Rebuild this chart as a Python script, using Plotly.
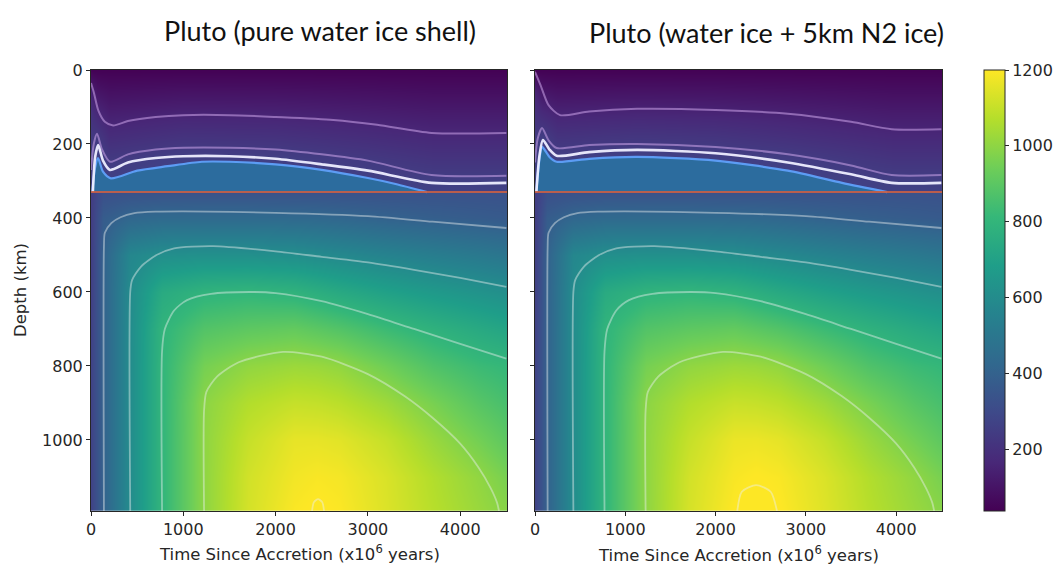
import plotly.graph_objects as go

W, H = 1058, 566
OFF = 0  # body margin is removed by a post script, so positions are window pixels

# ---------------- data ----------------
# Rocky interior temperature (K): rows = depth (km), cols = time (Myr)
core_time = [0, 130, 420, 770, 1225, 1700, 2200, 2450, 2700, 3200, 3700, 4200, 4500]
core_depth = [331, 335, 400, 500, 600, 700, 800, 900, 1000, 1100, 1190]
core_temp_pure = [
    [250, 320, 330, 335, 335, 335, 335, 335, 335, 335, 335, 335, 335],
    [250, 325, 336, 342, 342, 342, 342, 342, 340, 338, 336, 334, 333],
    [250, 375, 420, 435, 437, 437, 432, 428, 420, 402, 387, 375, 367],
    [255, 400, 575, 612, 620, 617, 609, 596, 583, 556, 530, 508, 492],
    [260, 400, 598, 745, 790, 800, 785, 762, 738, 697, 662, 632, 614],
    [265, 400, 600, 795, 880, 905, 918, 900, 880, 828, 781, 740, 717],
    [270, 400, 600, 800, 955, 1005, 1025, 1020, 1005, 943, 873, 827, 810],
    [270, 400, 600, 800, 995, 1065, 1100, 1095, 1080, 1030, 960, 889, 856],
    [270, 400, 600, 800, 1000, 1100, 1160, 1160, 1150, 1100, 1020, 950, 905],
    [270, 400, 600, 800, 1000, 1120, 1180, 1192, 1185, 1135, 1065, 1005, 960],
    [270, 400, 600, 800, 1000, 1125, 1195, 1208, 1197, 1140, 1075, 1020, 990],
]
core_temp_n2 = [
    [250, 320, 330, 335, 335, 335, 335, 335, 335, 335, 335, 335, 335],
    [250, 325, 336, 342, 342, 342, 342, 342, 340, 338, 336, 334, 333],
    [250, 375, 420, 435, 437, 437, 432, 428, 420, 402, 387, 375, 367],
    [255, 400, 575, 612, 620, 617, 609, 596, 583, 556, 530, 508, 492],
    [260, 400, 598, 745, 790, 800, 785, 762, 738, 697, 662, 632, 614],
    [265, 400, 600, 795, 880, 905, 918, 900, 880, 828, 781, 740, 717],
    [270, 400, 600, 800, 955, 1005, 1027, 1022, 1007, 943, 873, 827, 810],
    [270, 400, 600, 800, 995, 1065, 1105, 1100, 1085, 1030, 960, 889, 856],
    [270, 400, 600, 800, 1000, 1100, 1168, 1170, 1158, 1100, 1020, 950, 905],
    [270, 400, 600, 800, 1000, 1122, 1190, 1203, 1193, 1138, 1065, 1005, 960],
    [270, 400, 600, 800, 1000, 1128, 1202, 1220, 1204, 1145, 1075, 1020, 990],
]

# Ice shell temperature (K)
ice_depth = [0, 60, 120, 180, 240, 300, 328, 330]
ice_time_pure = [0, 65, 200, 1000, 2000, 3000, 3690, 4500]
ice_temp_pure = [
    [40, 40, 40, 40, 40, 40, 40, 40],
    [150, 104, 89, 97, 95, 89, 83, 83],
    [200, 169, 138, 153, 150, 137, 127, 127],
    [235, 233, 187, 210, 205, 186, 170, 170],
    [255, 268, 236, 262, 258, 234, 213, 213],
    [265, 272, 268, 270, 270, 266, 256, 256],
    [268, 274, 270, 272, 272, 270, 265, 265],
    [268, 274, 270, 272, 272, 270, 265, 265],
]
ice_time_n2 = [0, 78, 240, 1130, 2000, 2800, 3950, 4500]
ice_temp_n2 = [
    [40, 40, 40, 40, 40, 40, 40, 40],
    [150, 110, 97, 101, 99, 93, 83, 83],
    [200, 180, 154, 162, 157, 146, 127, 127],
    [235, 250, 211, 223, 216, 198, 170, 170],
    [255, 268, 262, 265, 263, 251, 213, 213],
    [265, 272, 270, 270, 270, 268, 256, 256],
    [268, 274, 272, 272, 272, 270, 265, 265],
    [268, 274, 272, 272, 272, 270, 265, 265],
]

# Contour lines in the ice shell (time Myr, depth km)
lav1_t_pure = [0, 30, 80, 150, 240, 400, 700, 1000, 1500, 2000, 2625, 3100, 3690, 4500]
lav1_d_pure = [35, 60, 110, 140, 150, 138, 127, 122, 122, 127, 135, 148, 170, 170]
lav2_t_pure = [0, 30, 65, 120, 205, 400, 700, 1000, 1500, 2000, 2500, 3000, 3690, 4500]
lav2_d_pure = [270, 200, 172, 215, 248, 228, 215, 210, 210, 215, 228, 245, 284, 286]
white_t_pure = [20, 45, 78, 130, 205, 400, 700, 1000, 1500, 2000, 2500, 3000, 3690, 4500]
white_d_pure = [330, 235, 203, 245, 270, 250, 238, 233, 233, 240, 255, 272, 305, 305]
blue_t_pure = [15, 40, 76, 130, 215, 500, 830, 1200, 1500, 2000, 2500, 3000, 3300, 3640]
blue_d_pure = [330, 270, 238, 275, 293, 272, 260, 248, 248, 255, 270, 292, 308, 330]

lav1_t_n2 = [0, 60, 150, 277, 600, 1130, 2000, 2800, 3500, 3950, 4500]
lav1_d_n2 = [5, 40, 95, 122, 112, 105, 108, 118, 140, 160, 160]
lav2_t_n2 = [0, 30, 78, 150, 240, 600, 1130, 2000, 2800, 3500, 3950, 4500]
lav2_d_n2 = [250, 185, 157, 190, 211, 203, 200, 208, 228, 258, 284, 284]
white_t_n2 = [15, 50, 88, 160, 240, 600, 1130, 2000, 2800, 3500, 3950, 4500]
white_d_n2 = [330, 230, 189, 215, 232, 222, 216, 225, 250, 282, 305, 305]
blue_t_n2 = [15, 45, 80, 160, 240, 600, 1130, 2000, 2800, 3400, 3900]
blue_d_n2 = [330, 250, 208, 235, 248, 240, 235, 245, 272, 305, 330]

# Core / shell boundary depth (km)
boundary_depth = 330

# Contour lines in the rocky interior (same for both runs, except 1200 K)
c400_t = [140, 140, 150, 220, 320, 470, 700, 1000, 2000, 3000, 3700, 4500]
c400_d = [1192, 480, 440, 414, 398, 387, 383, 382, 386, 395, 410, 427]
c600_t = [425, 425, 445, 540, 710, 900, 1320, 2000, 2500, 3000, 3500, 4000, 4500]
c600_d = [1192, 600, 568, 532, 500, 482, 476, 490, 505, 520, 540, 562, 586]
c800_t = [770, 770, 800, 900, 1040, 1300, 1720, 2000, 2500, 3000, 3500, 4000, 4500]
c800_d = [1192, 760, 700, 650, 622, 605, 600, 603, 625, 660, 700, 740, 780]
c1000_t = [1225, 1225, 1250, 1365, 1600, 2080, 2500, 3000, 3400, 3700, 4000, 4200, 4330, 4400, 4420]
c1000_d = [1192, 920, 870, 829, 790, 762, 775, 822, 882, 940, 1010, 1075, 1130, 1170, 1192]
c1200_t_pure = [2395, 2415, 2460, 2505, 2525]
c1200_d_pure = [1192, 1168, 1160, 1168, 1192]
c1200_t_n2 = [2240, 2290, 2450, 2610, 2680]
c1200_d_n2 = [1192, 1140, 1122, 1140, 1192]

titles = ["Pluto (pure water ice shell)", "Pluto (water ice + 5km N2 ice)"]
x_ticks = [0, 1000, 2000, 3000, 4000]
y_ticks = [0, 200, 400, 600, 800, 1000]
cbar_ticks = [200, 400, 600, 800, 1000, 1200]

# ---------------- styling ----------------
OCEAN = "rgb(44,108,158)"
LAV = "rgba(205,165,235,0.55)"
WHITE = "rgba(238,238,255,0.95)"
BLUE = "rgba(95,160,250,0.95)"
RED = "rgba(200,95,70,0.9)"
CORE_LINE = "rgba(235,240,240,0.45)"
TXT = "#262626"
TICKFONT = dict(family="DejaVu Sans", size=16, color=TXT)
LABELFONT = dict(family="DejaVu Sans", size=16.5, color=TXT)
TITLEFONT = dict(family="Lato, Liberation Sans", size=27, color="#111")


def fx(p):
    return (p - OFF) / W


def fy(p):
    return 1 - (p - OFF) / H


fig = go.Figure()

panels = [
    dict(xa="x", ya="y", core=core_temp_pure, it=ice_time_pure, iz=ice_temp_pure,
         lav1=(lav1_t_pure, lav1_d_pure), lav2=(lav2_t_pure, lav2_d_pure),
         white=(white_t_pure, white_d_pure), blue=(blue_t_pure, blue_d_pure),
         c1200=(c1200_t_pure, c1200_d_pure)),
    dict(xa="x2", ya="y2", core=core_temp_n2, it=ice_time_n2, iz=ice_temp_n2,
         lav1=(lav1_t_n2, lav1_d_n2), lav2=(lav2_t_n2, lav2_d_n2),
         white=(white_t_n2, white_d_n2), blue=(blue_t_n2, blue_d_n2),
         c1200=(c1200_t_n2, c1200_d_n2)),
]


def line(p, xs, ys, color, width, **kw):
    fig.add_trace(go.Scatter(x=xs, y=ys, mode="lines", xaxis=p["xa"], yaxis=p["ya"],
                             line=dict(color=color, width=width, shape="spline", smoothing=0.7),
                             hoverinfo="skip", showlegend=False, **kw))


for p in panels:
    fig.add_trace(go.Heatmap(x=core_time, y=core_depth, z=p["core"], zsmooth="best",
                             coloraxis="coloraxis", xaxis=p["xa"], yaxis=p["ya"], hoverinfo="skip"))
    fig.add_trace(go.Heatmap(x=p["it"], y=ice_depth, z=p["iz"], zsmooth="best",
                             coloraxis="coloraxis", xaxis=p["xa"], yaxis=p["ya"], hoverinfo="skip"))
    bt, bd = p["blue"]
    # ocean fill between boundary and ocean top
    fig.add_trace(go.Scatter(x=[bt[0], bt[-1]], y=[boundary_depth, boundary_depth], mode="lines",
                             xaxis=p["xa"], yaxis=p["ya"], line=dict(width=0),
                             hoverinfo="skip", showlegend=False))
    fig.add_trace(go.Scatter(x=bt, y=bd, mode="lines", xaxis=p["xa"], yaxis=p["ya"],
                             line=dict(width=0, shape="spline", smoothing=0.7),
                             fill="tonexty", fillcolor=OCEAN, hoverinfo="skip", showlegend=False))
    for ct, cd in [(c400_t, c400_d), (c600_t, c600_d), (c800_t, c800_d), (c1000_t, c1000_d), p["c1200"]]:
        line(p, ct, cd, CORE_LINE, 1.8)
    line(p, *p["lav1"], LAV, 2)
    line(p, *p["lav2"], LAV, 2)
    line(p, bt, bd, BLUE, 2.2)
    line(p, *p["white"], WHITE, 2.6)
    fig.add_trace(go.Scatter(x=[0, 4507], y=[boundary_depth, boundary_depth], mode="lines",
                             xaxis=p["xa"], yaxis=p["ya"], line=dict(color=RED, width=2),
                             hoverinfo="skip", showlegend=False))

ydom = [fy(511), fy(70)]
axis_common = dict(ticks="outside", ticklen=4, tickcolor=TXT, showline=True, mirror=True,
                   linecolor=TXT, linewidth=1, showgrid=False, zeroline=False, tickfont=TICKFONT)


def ann(text, x, y, font, **kw):
    return dict(text=text, x=fx(x), y=fy(y), xref="paper", yref="paper", showarrow=False,
                xanchor="center", yanchor="middle", font=font, **kw)


fig.update_layout(
    width=W, height=H, margin=dict(l=0, r=0, t=0, b=0, autoexpand=False),
    paper_bgcolor="white", plot_bgcolor="white",
    xaxis=dict(domain=[fx(91), fx(507)], range=[0, 4507], tickvals=x_ticks, anchor="y", **axis_common),
    yaxis=dict(domain=ydom, range=[1192, 0], tickvals=y_ticks, anchor="x", **axis_common),
    xaxis2=dict(domain=[fx(535), fx(942)], range=[0, 4507], tickvals=x_ticks, anchor="y2", **axis_common),
    yaxis2=dict(domain=ydom, range=[1192, 0], tickvals=y_ticks, anchor="x2", showticklabels=False,
                **axis_common),
    coloraxis=dict(colorscale="Viridis", cmin=37, cmax=1200,
                   colorbar=dict(x=fx(984), xanchor="left", y=fy(511), yanchor="bottom",
                                 len=441 / H, lenmode="fraction", thickness=21,
                                 outlinewidth=1, outlinecolor=TXT, ticks="outside", ticklen=4,
                                 tickcolor=TXT, tickvals=cbar_ticks, tickfont=TICKFONT, xpad=0, ypad=0)),
    annotations=[
        ann(titles[0], 320, 31, TITLEFONT),
        ann(titles[1], 766, 33, TITLEFONT),
        ann("Depth (km)", 20, 290, LABELFONT, textangle=-90),
        ann("Time Since Accretion (x10<sup>6</sup> years)", 299, 553, LABELFONT),
        ann("Time Since Accretion (x10<sup>6</sup> years)", 738, 554, LABELFONT),
    ],
)

fig.write_html("out.html", config={"displayModeBar": False},
               post_script="document.body.style.margin='0px'; document.body.style.overflow='hidden';")
